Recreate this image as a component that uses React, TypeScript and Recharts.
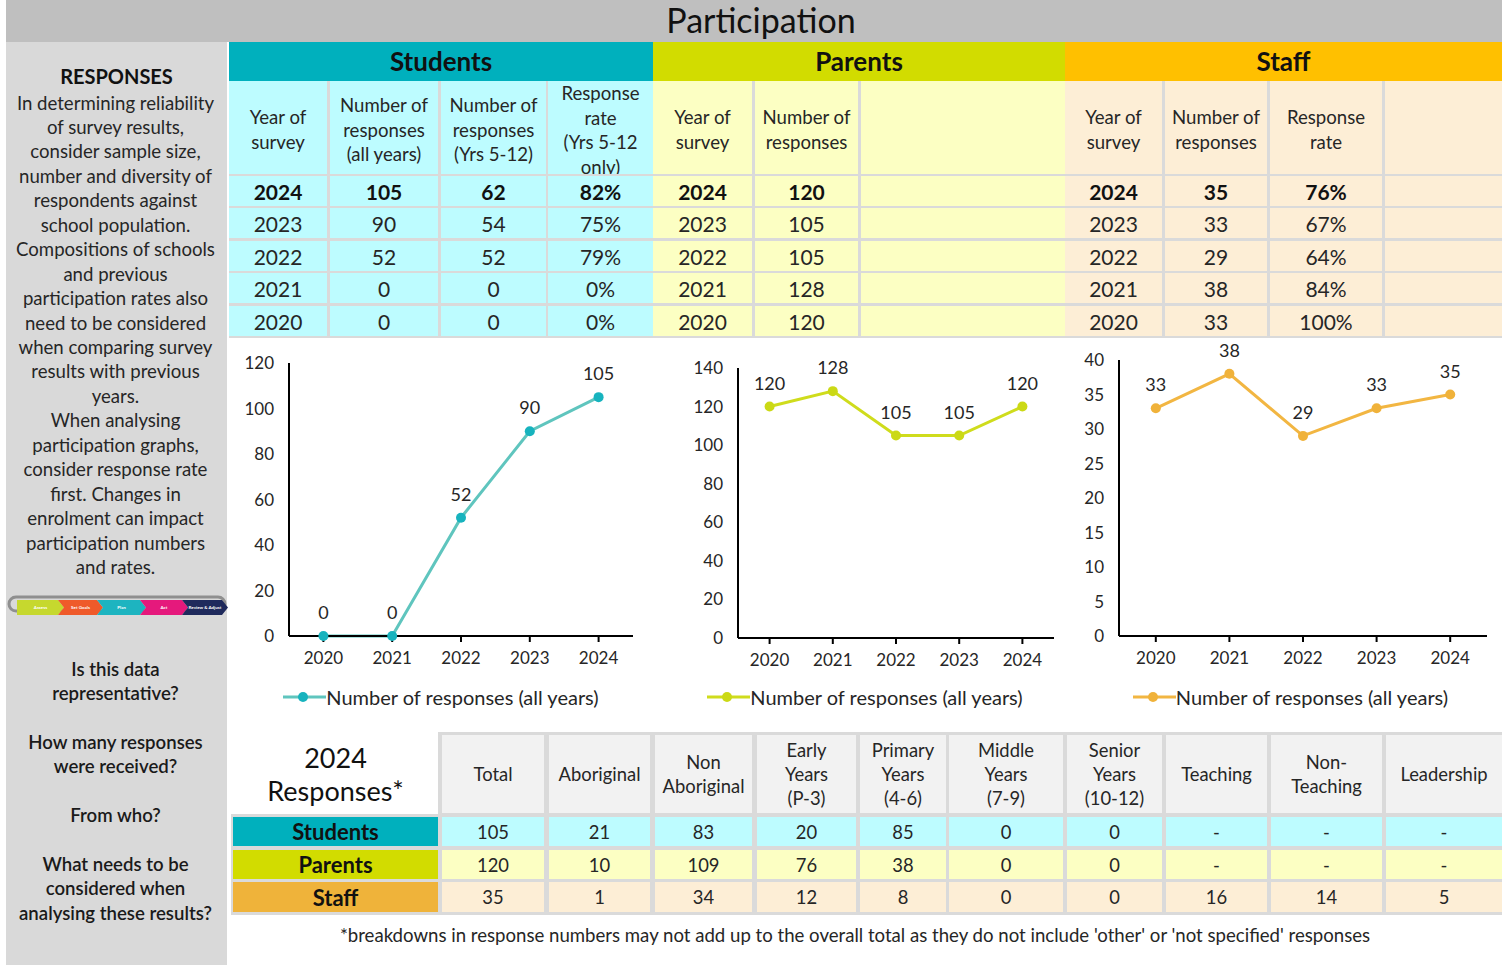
import React from 'react';
import { LineChart, Line, XAxis, YAxis, LabelList, Legend } from 'recharts';

const FONT = 'Lato, "Open Sans", sans-serif';
const TEXT = '#262626';

// ---------- data ----------
const years = ['2020', '2021', '2022', '2023', '2024'];
const studentResponses = [0, 0, 52, 90, 105];
const studentResponsesYrs512 = [0, 0, 52, 54, 62];
const studentResponseRate = ['0%', '0%', '79%', '75%', '82%'];
const parentResponses = [120, 128, 105, 105, 120];
const staffResponses = [33, 38, 29, 33, 35];
const staffResponseRate = ['100%', '84%', '64%', '67%', '76%'];

const studentTicks = [0, 20, 40, 60, 80, 100, 120];
const parentTicks = [0, 20, 40, 60, 80, 100, 120, 140];
const staffTicks = [0, 5, 10, 15, 20, 25, 30, 35, 40];

const seriesName = 'Number of responses (all years)';

const breakdownHeaders = [
  'Total',
  'Aboriginal',
  'Non\nAboriginal',
  'Early\nYears\n(P-3)',
  'Primary\nYears\n(4-6)',
  'Middle\nYears\n(7-9)',
  'Senior\nYears\n(10-12)',
  'Teaching',
  'Non-\nTeaching',
  'Leadership',
];
const breakdownGroups = ['Students', 'Parents', 'Staff'];
const studentsBreakdown = ['105', '21', '83', '20', '85', '0', '0', '-', '-', '-'];
const parentsBreakdown = ['120', '10', '109', '76', '38', '0', '0', '-', '-', '-'];
const staffBreakdown = ['35', '1', '34', '12', '8', '0', '0', '16', '14', '5'];

const leftParagraph = [
  'In determining reliability',
  'of survey results,',
  'consider sample size,',
  'number and diversity of',
  'respondents against',
  'school population.',
  'Compositions of schools',
  'and previous',
  'participation rates also',
  'need to be considered',
  'when comparing survey',
  'results with previous',
  'years.',
  'When analysing',
  'participation graphs,',
  'consider response rate',
  'first. Changes in',
  'enrolment can impact',
  'participation numbers',
  'and rates.',
];

// ---------- styles ----------
const C = {
  titleBar: '#bfbfbf',
  panel: '#d9d9d9',
  grid: '#dadada',
  studentsHead: '#00b0bd',
  studentsLight: '#bdfcff',
  parentsHead: '#d2dc00',
  parentsLight: '#fcffc3',
  staffHead: '#ffc000',
  staffLight: '#fdeed6',
  staffLabel: '#efb33a',
  headGray: '#f2f2f2',
};

type BoxProps = {
  x: number; y: number; w: number; h: number; bg?: string;
  children?: React.ReactNode; style?: React.CSSProperties;
};
function Box({ x, y, w, h, bg, children, style }: BoxProps) {
  return (
    <div
      style={{
        position: 'absolute', left: x, top: y, width: w, height: h, boxSizing: 'border-box',
        background: bg, display: 'flex', alignItems: 'center', justifyContent: 'center',
        textAlign: 'center', overflow: 'hidden', color: TEXT, fontFamily: FONT,
        whiteSpace: 'pre-line', ...style,
      }}
    >
      {children}
    </div>
  );
}

// ---------- chart ----------
type ChartProps = {
  left: number; width: number; values: number[]; color: string; dotColor: string;
  ticks: number[]; marginLeft: number; yWidth: number; marginRight: number;
  marginTop: number; xHeight: number; legendShift: number;
};
function TrendChart(p: ChartProps) {
  const data = years.map((y, i) => ({ year: y, value: p.values[i] }));
  const plotW = p.width - p.marginLeft - p.yWidth - p.marginRight;
  const pad = plotW / 10;
  const tickStyle = { fill: TEXT, fontSize: 17, fontFamily: FONT };
  return (
    <div style={{ position: 'absolute', left: p.left, top: 340, width: p.width, height: 380 }}>
      <LineChart
        width={p.width}
        height={380}
        data={data}
        margin={{ top: p.marginTop, right: p.marginRight, left: p.marginLeft, bottom: 11 }}
      >
        <XAxis
          dataKey="year"
          padding={{ left: pad, right: pad }}
          height={p.xHeight}
          interval={0}
          axisLine={{ stroke: '#000', strokeWidth: 2 }}
          tickLine={{ stroke: '#000', strokeWidth: 2 }}
          tickSize={6}
          tickMargin={10}
          tick={tickStyle}
        />
        <YAxis
          domain={[p.ticks[0], p.ticks[p.ticks.length - 1]]}
          ticks={p.ticks}
          interval={0}
          width={p.yWidth}
          axisLine={{ stroke: '#000', strokeWidth: 2 }}
          tickLine={false}
          tickSize={0}
          tickMargin={15}
          tick={tickStyle}
        />
        <Legend
          verticalAlign="bottom"
          wrapperStyle={{ left: 0, width: p.width, bottom: 11, height: 24 }}
          content={(props: any) => {
            const item = props.payload && props.payload[0];
            return (
              <div
                style={{
                  height: 24, display: 'flex', justifyContent: 'center', alignItems: 'center',
                  transform: `translateX(${p.legendShift}px)`, fontFamily: FONT, fontSize: 20, color: TEXT,
                  whiteSpace: 'nowrap',
                }}
              >
                <svg width={43} height={12} style={{ display: 'block' }}>
                  <line x1={0} y1={6} x2={43} y2={6} stroke={p.color} strokeWidth={3} />
                  <circle cx={20} cy={6} r={5} fill={p.dotColor} />
                </svg>
                <span>{item ? item.value : seriesName}</span>
              </div>
            );
          }}
        />
        <Line
          dataKey="value"
          name={seriesName}
          stroke={p.color}
          strokeWidth={3}
          dot={{ r: 5, fill: p.dotColor, stroke: p.dotColor, strokeWidth: 0 }}
          activeDot={false}
          isAnimationActive={false}
        >
          <LabelList dataKey="value" position="top" offset={17} style={{ fill: TEXT, fontSize: 18, fontFamily: FONT }} />
        </Line>
      </LineChart>
    </div>
  );
}

// ---------- top tables ----------
const rowTop = (i: number) => 175.5 + 32.5 * i;
const ROW_H = 30;
const HEAD_TOP = 81;
const HEAD_H = 92.5;

function Section({
  cols, heads, light, rows,
}: {
  cols: [number, number][]; heads: string[]; light: string; rows: string[][];
}) {
  const out: React.ReactNode[] = [];
  cols.forEach(([a, b], c) => {
    const lines = (heads[c] || '').split('\n').length;
    const tall = lines >= 4;
    out.push(
      <Box key={`h${c}`} x={a} y={HEAD_TOP} w={b - a} h={HEAD_H} bg={light}
        style={{
          fontSize: 18.6, lineHeight: '24.5px',
          alignItems: tall ? 'flex-start' : 'center',
          paddingTop: tall ? 0 : 5,
        }}>
        {heads[c] || ''}
      </Box>
    );
    for (let r = 0; r < 5; r++) {
      out.push(
        <Box key={`r${r}c${c}`} x={a} y={rowTop(r)} w={b - a} h={ROW_H} bg={light}
          style={{ fontSize: 21, fontWeight: r === 0 ? 700 : 400, color: r === 0 ? '#111' : TEXT, paddingTop: 1 }}>
          {rows[r] ? rows[r][c] || '' : ''}
        </Box>
      );
    }
  });
  return <>{out}</>;
}

function ProgressArrow() {
  const segs = [
    { x0: 17, x1: 58, c: '#c6d82e', t: 'Assess' },
    { x0: 58, x1: 97, c: '#ef5a2a', t: 'Set Goals' },
    { x0: 97, x1: 140, c: '#1db4c0', t: 'Plan' },
    { x0: 140, x1: 182, c: '#e5197c', t: 'Act' },
    { x0: 182, x1: 222, c: '#1f2a5c', t: 'Review & Adjust' },
  ];
  const top = 600, bot = 615, mid = 607.5, d = 6;
  return (
    <svg style={{ position: 'absolute', left: 0, top: 0 }} width={240} height={640}>
      <rect x={9} y={597} width={216} height={14} rx={7} fill="none" stroke="#8f8f8f" strokeWidth={3} />
      {segs.map((s, i) => (
        <g key={i}>
          <polygon
            points={`${s.x0},${top} ${s.x1},${top} ${s.x1 + d},${mid} ${s.x1},${bot} ${s.x0},${bot} ${i === 0 ? s.x0 : s.x0 + d},${mid}`}
            fill={s.c}
          />
          <text x={(s.x0 + s.x1) / 2 + 3} y={mid + 1.5} fontSize={4.5} fill="#fff" textAnchor="middle" fontFamily={FONT} fontWeight={700}>
            {s.t}
          </text>
        </g>
      ))}
    </svg>
  );
}

export default function App() {
  const desc = [4, 3, 2, 1, 0];
  const studentRows = desc.map((i) => [years[i], String(studentResponses[i]), String(studentResponsesYrs512[i]), studentResponseRate[i]]);
  const parentRows = desc.map((i) => [years[i], String(parentResponses[i]), '']);
  const staffRows = desc.map((i) => [years[i], String(staffResponses[i]), staffResponseRate[i], '']);

  const bCols: [number, number][] = [
    [442, 544], [549, 650], [655, 752], [757, 856], [860, 946],
    [949, 1063], [1067, 1162], [1166, 1267], [1271, 1382], [1386, 1502],
  ];
  const bRows: [number, number][] = [[817, 846], [850, 879], [882, 912]];
  const groupData = [studentsBreakdown, parentsBreakdown, staffBreakdown];
  const groupLabelBg = [C.studentsHead, C.parentsHead, C.staffLabel];
  const groupLight = [C.studentsLight, C.parentsLight, C.staffLight];

  return (
    <div style={{ position: 'absolute', left: 0, top: 0, width: 1502, height: 965, background: '#fff', fontFamily: FONT, overflow: 'hidden' }}>
      {/* title bar */}
      <Box x={6} y={0} w={1496} h={42} bg={C.titleBar} style={{ fontSize: 34, color: '#111', paddingLeft: 14, paddingBottom: 3 }}>Participation</Box>

      {/* left panel */}
      <div style={{ position: 'absolute', left: 6, top: 42, width: 221, height: 923, background: C.panel }} />
      <Box x={6} y={64} w={221} h={24} style={{ fontSize: 20, fontWeight: 700, color: '#111' }}>RESPONSES</Box>
      <div style={{ position: 'absolute', left: 4, top: 90.5, width: 223, textAlign: 'center', fontSize: 18.6, lineHeight: '24.45px', color: TEXT, fontFamily: FONT, whiteSpace: 'nowrap' }}>
        {leftParagraph.map((l, i) => <div key={i}>{l}</div>)}
      </div>
      <ProgressArrow />
      <div style={{ position: 'absolute', left: 4, top: 656.5, width: 223, textAlign: 'center', fontSize: 18.6, lineHeight: '24.4px', color: '#1a1a1a', fontWeight: 600, fontFamily: FONT, whiteSpace: 'nowrap' }}>
        <div>Is this data</div>
        <div>representative?</div>
        <div style={{ height: 24.4 }} />
        <div>How many responses</div>
        <div>were received?</div>
        <div style={{ height: 24.4 }} />
        <div>From who?</div>
        <div style={{ height: 24.4 }} />
        <div>What needs to be</div>
        <div>considered when</div>
        <div>analysing these results?</div>
      </div>

      {/* top table */}
      <div style={{ position: 'absolute', left: 229, top: 81, width: 1273, height: 257, background: C.grid }} />
      <Box x={229} y={42} w={424} h={39} bg={C.studentsHead} style={{ fontSize: 26, fontWeight: 700, color: '#111', paddingBottom: 2 }}>Students</Box>
      <Box x={653} y={42} w={412} h={39} bg={C.parentsHead} style={{ fontSize: 26, fontWeight: 700, color: '#111', paddingBottom: 2 }}>Parents</Box>
      <Box x={1065} y={42} w={437} h={39} bg={C.staffHead} style={{ fontSize: 26, fontWeight: 700, color: '#111', paddingBottom: 2 }}>Staff</Box>

      <Section
        cols={[[229, 327], [330, 438], [441, 546], [548, 653]]}
        heads={['Year of\nsurvey', 'Number of\nresponses\n(all years)', 'Number of\nresponses\n(Yrs 5-12)', 'Response\nrate\n(Yrs 5-12\nonly)']}
        light={C.studentsLight}
        rows={studentRows}
      />
      <Section
        cols={[[653, 752], [755, 858], [861, 1065]]}
        heads={['Year of\nsurvey', 'Number of\nresponses', '']}
        light={C.parentsLight}
        rows={parentRows}
      />
      <Section
        cols={[[1065, 1162], [1165, 1267], [1270, 1382], [1385, 1502]]}
        heads={['Year of\nsurvey', 'Number of\nresponses', 'Response\nrate', '']}
        light={C.staffLight}
        rows={staffRows}
      />

      {/* charts */}
      <TrendChart left={229} width={424} values={studentResponses} color="#5fc5be" dotColor="#17b3be"
        ticks={studentTicks} marginLeft={20} yWidth={40} marginRight={20} marginTop={23} xHeight={49} legendShift={0} />
      <TrendChart left={653} width={412} values={parentResponses} color="#cfdc1c" dotColor="#cbd915"
        ticks={parentTicks} marginLeft={40} yWidth={45} marginRight={11} marginTop={28} xHeight={47} legendShift={6} />
      <TrendChart left={1065} width={437} values={staffResponses} color="#f2b642" dotColor="#f0b23a"
        ticks={staffTicks} marginLeft={19} yWidth={35} marginRight={15} marginTop={20} xHeight={49} legendShift={7} />

      {/* bottom table */}
      <div style={{ position: 'absolute', left: 438, top: 732, width: 1064, height: 183, background: C.grid }} />
      <div style={{ position: 'absolute', left: 231, top: 814, width: 210, height: 101, background: C.grid }} />
      <Box x={233} y={735} w={205} h={78} bg="#fff" style={{ fontSize: 27, lineHeight: '33px', color: '#111' }}>
        {'2024\nResponses*'}
      </Box>
      {bCols.map(([a, b], c) => (
        <Box key={`bh${c}`} x={a} y={735} w={b - a} h={78} bg={C.headGray} style={{ fontSize: 18.4, lineHeight: '24px' }}>
          {breakdownHeaders[c]}
        </Box>
      ))}
      {bRows.map(([t, bt], r) => (
        <React.Fragment key={`br${r}`}>
          <Box x={233} y={t} w={205} h={bt - t} bg={groupLabelBg[r]} style={{ fontSize: 22, fontWeight: 700, color: '#111' }}>
            {breakdownGroups[r]}
          </Box>
          {bCols.map(([a, b], c) => (
            <Box key={`bc${r}-${c}`} x={a} y={t} w={b - a} h={bt - t} bg={groupLight[r]} style={{ fontSize: 18.4 }}>
              {groupData[r][c]}
            </Box>
          ))}
        </React.Fragment>
      ))}
      <Box x={205} y={923} w={1300} h={24} style={{ fontSize: 18.6, whiteSpace: 'nowrap' }}>
        *breakdowns in response numbers may not add up to the overall total as they do not include 'other' or 'not specified' responses
      </Box>
    </div>
  );
}
